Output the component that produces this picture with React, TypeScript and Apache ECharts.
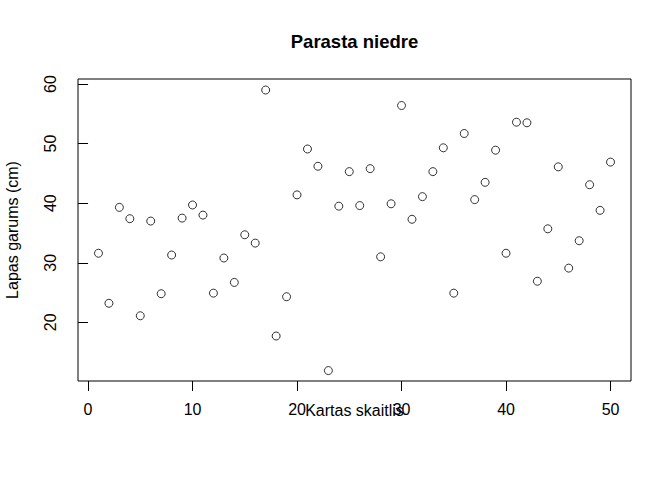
import React, { useEffect, useRef } from "react";
import * as echarts from "echarts";

const indices: number[] = Array.from({ length: 50 }, (_, i) => i + 1);
const lengths: number[] = [
  31.6, 23.2, 39.3, 37.4, 21.1, 37.0, 24.8, 31.3, 37.5, 39.7,
  38.0, 24.9, 30.8, 26.7, 34.7, 33.3, 59.0, 17.7, 24.3, 41.4,
  49.1, 46.2, 11.9, 39.5, 45.3, 39.6, 45.8, 31.0, 39.9, 56.4,
  37.3, 41.1, 45.3, 49.3, 24.9, 51.7, 40.6, 43.5, 48.9, 31.6,
  53.6, 53.5, 26.9, 35.7, 46.1, 29.1, 33.7, 43.1, 38.8, 46.9,
];
const xTicks: number[] = [0, 10, 20, 30, 40, 50];
const yTicks: number[] = [20, 30, 40, 50, 60];
const titleText = "Parasta niedre";
const xLabel = "Kartas skaitlis";
const yLabel = "Lapas garums (cm)";

const FONT = "'Liberation Sans', Arial, Helvetica, sans-serif";

export default function App() {
  const ref = useRef<HTMLDivElement>(null);
  useEffect(() => {
    if (!ref.current) return;
    const chart = echarts.init(ref.current, null, { renderer: "svg" });
    const points = indices.map((x, i) => [x, lengths[i]]);
    chart.setOption({
      animation: false,
      backgroundColor: "#ffffff",
      textStyle: { fontFamily: FONT },
      graphic: [
        {
          type: "text",
          x: 354.5,
          y: 41,
          style: {
            text: titleText,
            font: `bold 18.5px ${FONT}`,
            fill: "#000",
            textAlign: "center",
            textVerticalAlign: "middle",
          },
        },
      ],
      grid: {
        left: 78,
        top: 79,
        width: 553,
        height: 302,
        containLabel: false,
        outerBoundsMode: "none",
        show: true,
        borderColor: "#000",
        borderWidth: 1,
        backgroundColor: "transparent",
      },
      xAxis: {
        type: "value",
        min: -0.96,
        max: 51.96,
        splitLine: { show: false },
        axisLine: { show: false },
        axisTick: {
          show: true,
          length: 10,
          inside: false,
          lineStyle: { color: "#000", width: 1 },
          customValues: xTicks,
        },
        axisLabel: {
          show: true,
          color: "#000",
          fontSize: 16,
          fontFamily: FONT,
          margin: 20,
          customValues: xTicks,
          showMinLabel: true,
          showMaxLabel: true,
        },
        name: xLabel,
        nameLocation: "middle",
        nameGap: 21,
        nameMoveOverlap: false,
        nameTextStyle: { color: "#000", fontSize: 16, fontFamily: FONT },
      },
      yAxis: {
        type: "value",
        min: 10.15,
        max: 60.85,
        splitLine: { show: false },
        axisLine: { show: false },
        axisTick: {
          show: true,
          length: 10,
          inside: false,
          lineStyle: { color: "#000", width: 1 },
          customValues: yTicks,
        },
        axisLabel: {
          show: true,
          color: "#000",
          fontSize: 16,
          fontFamily: FONT,
          margin: 20,
          rotate: 90,
          customValues: yTicks,
          showMinLabel: true,
          showMaxLabel: true,
        },
        name: yLabel,
        nameLocation: "middle",
        nameGap: 58,
        nameMoveOverlap: false,
        nameTextStyle: { color: "#000", fontSize: 16, fontFamily: FONT },
      },
      series: [
        {
          type: "scatter",
          data: points,
          symbol: "circle",
          symbolSize: 8,
          itemStyle: { color: "#ffffff", borderColor: "#000", borderWidth: 1 },
          emphasis: { disabled: true },
        },
      ],
    });
    return () => chart.dispose();
  }, []);
  return (
    <div
      ref={ref}
      style={{ position: "fixed", left: 0, top: 0, width: 672, height: 480 }}
    />
  );
}
